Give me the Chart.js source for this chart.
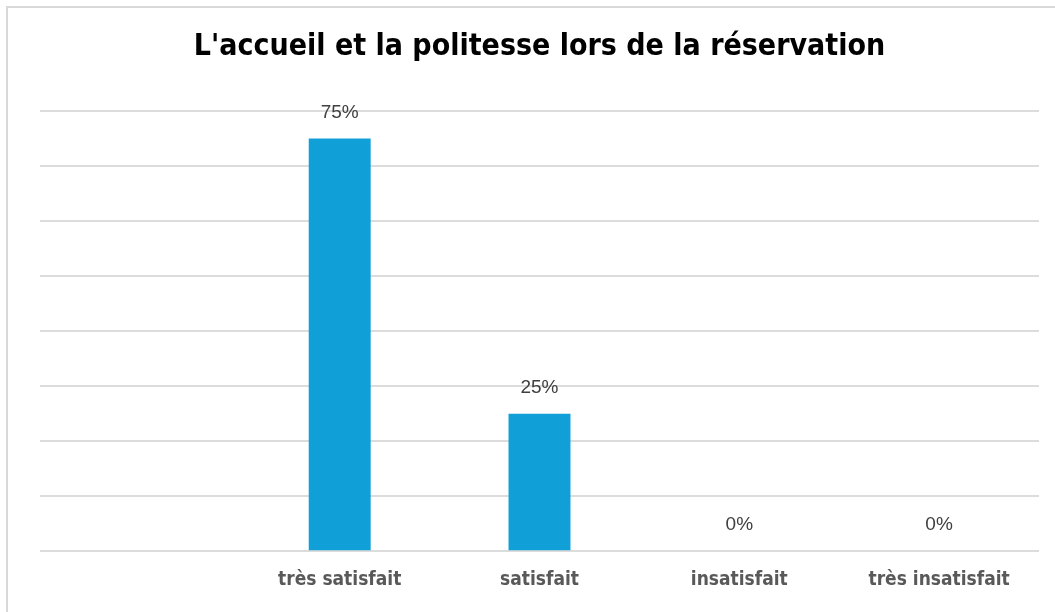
<!DOCTYPE html>
<html lang="fr">
<head>
    <meta charset="UTF-8" />
    <title>L'accueil et la politesse lors de la réservation</title>
    <script src="https://cdn.jsdelivr.net/npm/chart.js"></script>
    <style>
        html, body {
            margin: 0;
            padding: 0;
            background: #ffffff;
            overflow: hidden;
        }
        .frame {
            position: absolute;
            left: 6px;
            top: 6px;
            width: 1100px;
            height: 700px;
            border-left: 2px solid #d9d9d9;
            border-top: 2px solid #d9d9d9;
        }
        .chart-box {
            position: absolute;
            left: 0;
            top: 0;
            width: 1055px;
            height: 612px;
        }
    </style>
</head>
<body>
    <div class="frame"></div>
    <div class="chart-box">
        <canvas id="chart"></canvas>
    </div>

    <script>
        // data
        const categories = ["", "très satisfait", "satisfait", "insatisfait", "très insatisfait"];
        const percentages = [null, 75, 25, 0, 0];
        const yTicks = { min: 0, max: 80, step: 10 };

        const narrow = "'Liberation Sans Narrow', 'DejaVu Sans Condensed', 'Liberation Sans', sans-serif";

        // draws "75%" etc. above each bar
        const valueLabels = {
            id: "valueLabels",
            afterDatasetsDraw(chart) {
                const ctx = chart.ctx;
                const meta = chart.getDatasetMeta(0);
                ctx.save();
                ctx.font = "19px 'Liberation Sans', Arial, sans-serif";
                ctx.fillStyle = "#404040";
                ctx.textAlign = "center";
                ctx.textBaseline = "middle";
                meta.data.forEach((bar, i) => {
                    const v = percentages[i];
                    if (v === null) return;
                    ctx.fillText(v + "%", bar.x, bar.y - 26);
                });
                ctx.restore();
            }
        };

        new Chart(document.getElementById("chart").getContext("2d"), {
            type: "bar",
            data: {
                labels: categories,
                datasets: [{
                    data: percentages,
                    backgroundColor: "#109fd7",
                    barPercentage: 0.31,
                    categoryPercentage: 1.0
                }]
            },
            options: {
                responsive: true,
                maintainAspectRatio: false,
                animation: false,
                layout: { padding: { left: 40, right: 16, top: 0, bottom: 12 } },
                plugins: {
                    legend: { display: false },
                    tooltip: { enabled: false },
                    title: {
                        display: true,
                        text: "L'accueil et la politesse lors de la réservation",
                        color: "#000000",
                        font: { family: narrow, size: 30, weight: "bold", lineHeight: 1.2 },
                        padding: { top: 29, bottom: 46 }
                    }
                },
                scales: {
                    x: {
                        grid: { display: false },
                        border: { display: false },
                        ticks: {
                            color: "#595959",
                            padding: 9,
                            font: { family: narrow, size: 19, weight: "bold" },
                            maxRotation: 0
                        }
                    },
                    y: {
                        min: yTicks.min,
                        max: yTicks.max,
                        ticks: { display: false, stepSize: yTicks.step },
                        border: { display: false },
                        grid: { color: "#dcdcdc", lineWidth: 2, drawTicks: false }
                    }
                }
            },
            plugins: [valueLabels]
        });
    </script>
</body>
</html>
